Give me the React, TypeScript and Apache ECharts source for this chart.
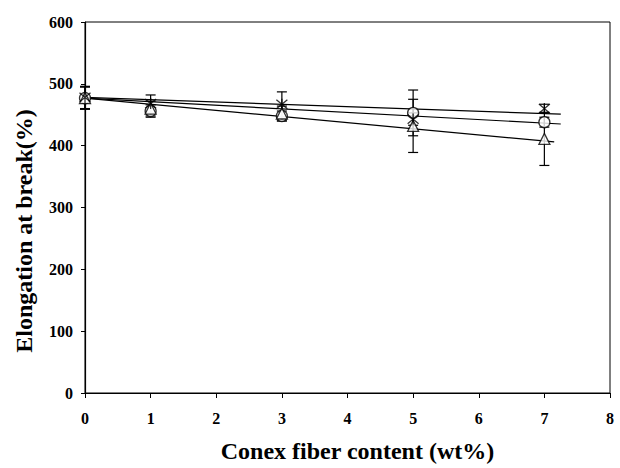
import React, { useEffect, useRef } from "react";
import * as echarts from "echarts";

const xValues = [0, 1, 3, 5, 7];
const starVals = [478, 468, 467, 443, 460];
const starErr = [18, 14, 20, 10, 7];
const circleVals = [477, 456, 448, 453, 438];
const circleErr = [18, 10, 8, 37, 8];
const triVals = [477, 460, 452, 432, 411];
const triErr = [18, 12, 12, 43, 43];

// trend lines: [x, y] endpoints
const starFitX = [0, 7.25];
const starFitY = [478, 451];
const circleFitX = [0, 7.25];
const circleFitY = [477, 435];
const triFitX = [0, 7.15];
const triFitY = [477, 406];

const xTicks = [0, 1, 2, 3, 4, 5, 6, 7, 8];
const yTicks = [0, 100, 200, 300, 400, 500, 600];

const FONT = "'Liberation Serif', 'Times New Roman', serif";
const STAR_PATH = "path://M0,0L10,10M10,0L0,10M5,-1L5,11";

function errSeries(name: string, vals: number[], errs: number[]) {
  return {
    name: name + " err",
    type: "custom",
    z: 3,
    encode: { x: 0, y: [1, 2] },
    data: xValues.map((x, i) => [x, vals[i] - errs[i], vals[i] + errs[i]]),
    renderItem: (params: any, api: any) => {
      const x = api.value(0);
      const top = api.coord([x, api.value(2)]);
      const bot = api.coord([x, api.value(1)]);
      const w = 5;
      const st = { stroke: "#000", lineWidth: 1.2 };
      return {
        type: "group",
        children: [
          { type: "line", shape: { x1: top[0], y1: top[1], x2: bot[0], y2: bot[1] }, style: st },
          { type: "line", shape: { x1: top[0] - w, y1: top[1], x2: top[0] + w, y2: top[1] }, style: st },
          { type: "line", shape: { x1: bot[0] - w, y1: bot[1], x2: bot[0] + w, y2: bot[1] }, style: st },
        ],
      };
    },
  };
}

function fitSeries(name: string, xs: number[], ys: number[]) {
  return {
    name: name + " fit",
    type: "line",
    z: 2,
    symbol: "none",
    lineStyle: { color: "#000", width: 1.2 },
    data: xs.map((x, i) => [x, ys[i]]),
  };
}

function markerSeries(name: string, vals: number[], symbol: string, size: number) {
  return {
    name,
    type: "scatter",
    z: 4,
    symbol,
    symbolSize: size,
    itemStyle: { color: symbol === STAR_PATH ? "none" : "#fff", borderColor: "#000", borderWidth: 1.3 },
    data: xValues.map((x, i) => [x, vals[i]]),
  };
}

export default function App() {
  const ref = useRef<HTMLDivElement>(null);
  useEffect(() => {
    document.body.style.margin = "0";
    if (!ref.current) return;
    const chart = echarts.init(ref.current, null, { renderer: "svg" });
    const labelStyle = { fontFamily: FONT, fontWeight: "bold", fontSize: 16, color: "#000" };
    chart.setOption({
      animation: false,
      backgroundColor: "#fff",
      grid: { left: 85, top: 22, width: 525, height: 375, show: true, borderColor: "#000", borderWidth: 1 },
      xAxis: {
        type: "value",
        min: xTicks[0],
        max: xTicks[xTicks.length - 1],
        interval: 1,
        name: "Conex fiber content (wt%)",
        nameLocation: "middle",
        nameGap: 46,
        nameTextStyle: { fontFamily: FONT, fontWeight: "bold", fontSize: 24, color: "#000", padding: [0, 0, 0, 20] },
        axisLine: { lineStyle: { color: "#000", width: 1.2 } },
        axisTick: { show: true, length: 5, lineStyle: { color: "#000" } },
        axisLabel: { ...labelStyle, margin: 17, showMaxLabel: true },
        splitLine: { show: false },
      },
      yAxis: {
        type: "value",
        min: yTicks[0],
        max: yTicks[yTicks.length - 1],
        interval: 100,
        axisLine: { show: true, lineStyle: { color: "#000", width: 1.2 } },
        axisTick: { show: true, length: 4, lineStyle: { color: "#000" } },
        axisLabel: { ...labelStyle, margin: 12 },
        splitLine: { show: false },
      },
      graphic: [
        {
          type: "text",
          x: 24,
          y: 231,
          rotation: Math.PI / 2,
          style: {
            text: "Elongation at break(%)",
            fontFamily: FONT,
            fontWeight: "bold",
            fontSize: 24,
            fill: "#000",
            align: "center",
            verticalAlign: "middle",
          },
        },
      ],
      series: [
        fitSeries("star", starFitX, starFitY),
        fitSeries("circle", circleFitX, circleFitY),
        fitSeries("triangle", triFitX, triFitY),
        errSeries("star", starVals, starErr),
        errSeries("circle", circleVals, circleErr),
        errSeries("triangle", triVals, triErr),
        markerSeries("circle", circleVals, "circle", 11),
        markerSeries("triangle", triVals, "triangle", 11),
        markerSeries("star", starVals, STAR_PATH, 11),
      ],
    });
    return () => chart.dispose();
  }, []);
  return <div ref={ref} style={{ width: 620, height: 468 }} />;
}
